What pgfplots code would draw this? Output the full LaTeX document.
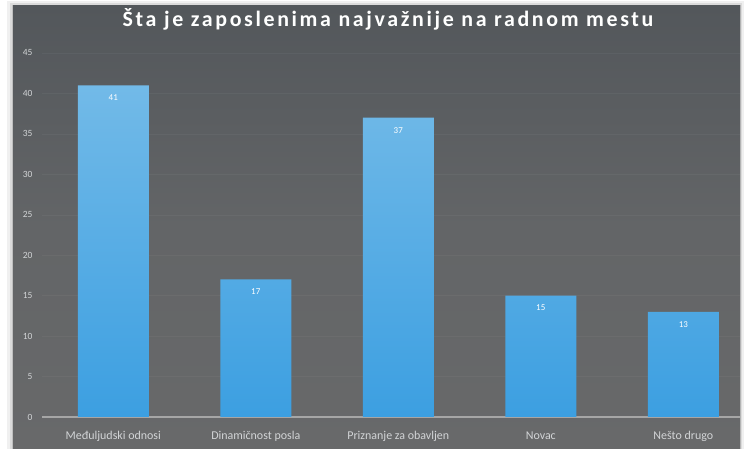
\documentclass[border=0pt]{standalone}
\usepackage{pgfplots}
\pgfplotsset{compat=1.18}
\usepackage{fontspec}
\setmainfont{Carlito}
\definecolor{bgtop}{HTML}{53575B}
\definecolor{bgmid}{HTML}{636567}
\definecolor{bgbot}{HTML}{68696A}
\definecolor{bartop}{HTML}{72BAE8}
\definecolor{barbot}{HTML}{3C9FE1}
\definecolor{lbl}{HTML}{D2D4D6}
\begin{document}
\begin{tikzpicture}[x=1bp,y=1bp]
\fill[white] (0,0) rectangle (745,449);
\fill[black!6] (7,0) rectangle (744,448);
\fill[black!14] (10,0) rectangle (742,446);
\fill[black!25] (12,0) rectangle (741,444);
\shade[top color=bgtop, bottom color=bgbot, middle color=bgmid, draw=none] (13,0) rectangle (740,443);
\node[text=white, font=\fontsize{22}{24}\selectfont\bfseries\addfontfeature{LetterSpace=12}] at (388,430) {Šta je zaposlenima najvažnije na radnom mestu};
\begin{axis}[
  at={(42bp,32bp)}, anchor=south west,
  scale only axis, width=698bp, height=364bp,
  xmin=-0.5, xmax=4.398, ymin=0, ymax=45,
  ytick={0,5,...,45},
  xtick={0,1,2,3,4},
  xticklabels={Međuljudski odnosi,Dinamičnost posla,Priznanje za obavljen,Novac,Nešto drugo},
  axis x line*=bottom, axis y line*=left,
  x axis line style={draw=black!35, line width=1.2bp},
  y axis line style={draw=none},
  tick style={draw=none},
  ymajorgrids, grid style={white, opacity=0.04},
  yticklabel style={font=\fontsize{9.5}{10}\selectfont, text=lbl, xshift=-6bp},
  xticklabel style={font=\fontsize{12}{13}\selectfont, text=lbl, yshift=-11bp},
  /pgf/number format/assume math mode=true,
  clip=false,
]
\addplot[ybar, bar width=71bp, draw=none, top color=bartop, bottom color=barbot,
  nodes near coords, every node near coord/.append style={anchor=north, yshift=-6bp, text=white, font=\fontsize{9}{10}\selectfont}]
  coordinates {(0,41) (1,17) (2,37) (3,15) (4,13)};
\end{axis}
\end{tikzpicture}
\end{document}
